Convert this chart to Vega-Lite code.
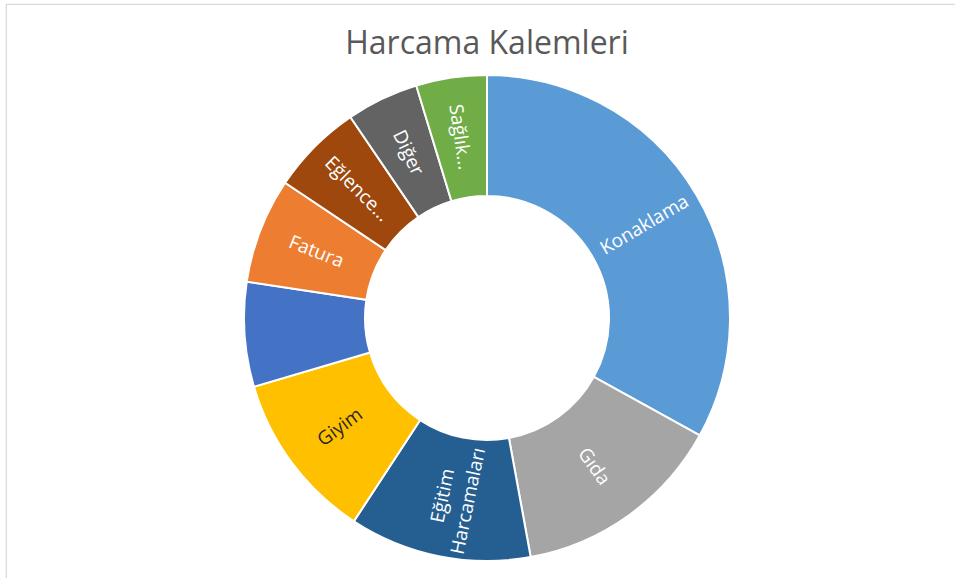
{
  "$schema": "https://vega.github.io/schema/vega-lite/v6.json",
  "width": 962,
  "height": 628,
  "autosize": "none",
  "padding": {"left": 6, "top": 4, "right": -13, "bottom": -54},
  "background": "white",
  "view": {"stroke": "#d9d9d9", "strokeWidth": 1.2, "fill": "white"},
  "title": {"text": "Harcama Kalemleri", "font": "Open Sans", "fontSize": 32, "fontWeight": "normal", "color": "#595959", "offset": -57, "anchor": "middle"},
  "config": {"view": {"stroke": "#d9d9d9", "strokeWidth": 1.2}},
  "data": {
    "values": [
      {"category": "Konaklama", "label": "Konaklama", "value": 33.0},
      {"category": "Gıda", "label": "Gıda", "value": 14.1},
      {"category": "Eğitim Harcamaları", "label": "Eğitim\nHarcamaları", "value": 12.1},
      {"category": "Giyim", "label": "Giyim", "value": 11.2},
      {"category": "Ulaşım", "label": "", "value": 6.95},
      {"category": "Fatura", "label": "Fatura", "value": 7.0},
      {"category": "Eğlence", "label": "Eğlence...", "value": 6.1},
      {"category": "Diğer", "label": "Diğer", "value": 4.8},
      {"category": "Sağlık", "label": "Sağlık...", "value": 4.7}
    ]
  },
  "transform": [{"window": [{"op": "row_number", "as": "idx"}]}],
  "encoding": {
    "theta": {"field": "value", "type": "quantitative", "stack": true, "scale": {"type": "linear", "range": [0, 6.283185307179586]}},
    "order": {"field": "idx", "type": "quantitative"}
  },
  "layer": [
    {
      "mark": {"type": "arc", "outerRadius": 243, "innerRadius": 122, "stroke": "white", "strokeWidth": 2},
      "encoding": {
        "color": {
          "field": "category",
          "type": "nominal",
          "legend": null,
          "scale": {
            "domain": ["Konaklama", "Gıda", "Eğitim Harcamaları", "Giyim", "Ulaşım", "Fatura", "Eğlence", "Diğer", "Sağlık"],
            "range": ["#5B9BD5", "#A5A5A5", "#255E91", "#FFC000", "#4472C4", "#ED7D31", "#9E480E", "#636363", "#70AD47"]
          }
        }
      }
    },
    {
      "mark": {"type": "text", "radius": 183, "font": "Open Sans", "fontSize": 19, "lineBreak": "\n", "lineHeight": 26, "align": "center", "baseline": "middle"},
      "encoding": {
        "text": {"condition": {"test": "indexof(datum.label, '\\n') >= 0", "value": ""}, "field": "label", "type": "nominal"},
        "angle": {
          "field": "idx",
          "type": "quantitative",
          "legend": null,
          "scale": {
            "type": "linear",
            "domain": [1, 2, 3, 4, 5, 6, 7, 8, 9],
            "range": [-30.5, 54.4, -78.3, -36.3, 0, 21.5, 45, 64.6, 81.6]
          }
        },
        "color": {"condition": {"test": "datum.category === 'Giyim'", "value": "#262626"}, "value": "white"}
      }
    },
    {
      "mark": {"type": "text", "radius": 183, "font": "Open Sans", "fontSize": 19, "lineBreak": "\n", "lineHeight": 26, "align": "center", "baseline": "middle", "dy": -8, "color": "white"},
      "encoding": {
        "text": {"condition": {"test": "indexof(datum.label, '\\n') >= 0", "field": "label"}, "value": ""},
        "angle": {
          "field": "idx",
          "type": "quantitative",
          "legend": null,
          "scale": {
            "type": "linear",
            "domain": [1, 2, 3, 4, 5, 6, 7, 8, 9],
            "range": [-30.5, 54.4, -78.3, -36.3, 0, 21.5, 45, 64.6, 81.6]
          }
        }
      }
    }
  ]
}
